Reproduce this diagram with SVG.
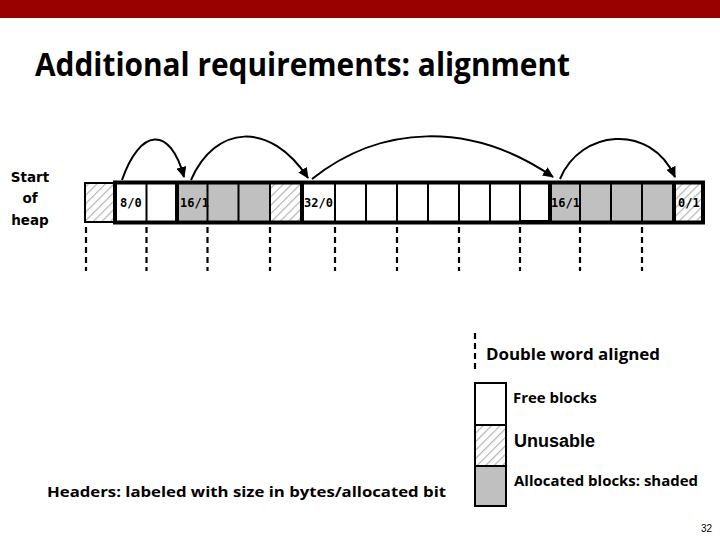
<svg xmlns="http://www.w3.org/2000/svg" width="720" height="540" viewBox="0 0 720 540">
<style>
.title{font-family:"Open Sans","Liberation Sans",sans-serif;font-weight:bold;font-size:33px;fill:#000}
.lbl{font-family:"Open Sans","Liberation Sans",sans-serif;font-weight:bold;fill:#000}
.cell{font-family:"DejaVu Sans Mono","Liberation Mono",monospace;font-weight:bold;font-size:12px;fill:#000}
.side{font-family:"DejaVu Sans","Liberation Sans",sans-serif;font-weight:bold;font-size:13.5px;fill:#000}
.free{fill:#fff}
.alloc{fill:#c0c0c0}
.hatch{fill:url(#hatch)}
.div{stroke:#000;stroke-width:2}
.thick{stroke:#000;stroke-width:4}
.dash{stroke:#000;stroke-width:2.2;stroke-dasharray:6,4;fill:none}
.arc{fill:none;stroke:#000;stroke-width:2;marker-end:url(#ah)}
</style>
<defs>
<pattern id="hatch" patternUnits="userSpaceOnUse" width="6" height="6" patternTransform="rotate(45)">
<rect width="6" height="6" fill="#fff"/>
<line x1="0" y1="0" x2="0" y2="6" stroke="#b4b4b4" stroke-width="2.4"/>
</pattern>
<marker id="ah" markerWidth="11" markerHeight="10" refX="10" refY="5" orient="auto" markerUnits="userSpaceOnUse">
<path d="M0,0 L11,5 L0,10 Z" fill="#000"/>
</marker>
</defs>
<rect x="0" y="0" width="720" height="18" fill="#990000"/>
<text class="title" x="35" y="76" textLength="535" lengthAdjust="spacingAndGlyphs">Additional requirements: alignment</text>

<g id="start-label">
<text class="side" x="30" y="182" text-anchor="middle">Start</text>
<text class="side" x="30" y="203" text-anchor="middle">of</text>
<text class="side" x="30" y="225" text-anchor="middle">heap</text>
</g>

<g id="pad">
<rect class="hatch" x="85" y="183" width="30" height="39" stroke="#000" stroke-width="2"/>
</g>

<g id="heap">
<rect class="free" x="115" y="182.5" width="62" height="40"/>
<rect class="alloc" x="177" y="182.5" width="93" height="40"/>
<rect class="hatch" x="270" y="182.5" width="32" height="40"/>
<rect class="free" x="302" y="182.5" width="248" height="40"/>
<rect class="alloc" x="550" y="182.5" width="124" height="40"/>
<rect class="hatch" x="674" y="182.5" width="29" height="40"/>
<g class="div">
<line x1="146.5" y1="182" x2="146.5" y2="223"/>
<line x1="207.5" y1="182" x2="207.5" y2="223"/>
<line x1="238.5" y1="182" x2="238.5" y2="223"/>
<line x1="270" y1="182" x2="270" y2="223"/>
<line x1="335" y1="182" x2="335" y2="223"/>
<line x1="366" y1="182" x2="366" y2="223"/>
<line x1="397" y1="182" x2="397" y2="223"/>
<line x1="428" y1="182" x2="428" y2="223"/>
<line x1="459" y1="182" x2="459" y2="223"/>
<line x1="490" y1="182" x2="490" y2="223"/>
<line x1="520" y1="182" x2="520" y2="223"/>
<line x1="580" y1="182" x2="580" y2="223"/>
<line x1="611" y1="182" x2="611" y2="223"/>
<line x1="642" y1="182" x2="642" y2="223"/>
</g>
<g class="thick">
<line x1="177" y1="182" x2="177" y2="223"/>
<line x1="302" y1="182" x2="302" y2="223"/>
<line x1="550" y1="182" x2="550" y2="223"/>
<line x1="674" y1="182" x2="674" y2="223"/>
</g>
<line x1="520" y1="221" x2="550" y2="221" stroke="#000" stroke-width="2"/>
<rect x="115" y="182.5" width="588" height="40" fill="none" stroke="#000" stroke-width="4"/>
<text class="cell" x="120" y="207">8/0</text>
<text class="cell" x="180" y="207">16/1</text>
<text class="cell" x="304" y="207">32/0</text>
<text class="cell" x="551" y="207">16/1</text>
<text class="cell" x="678" y="207">0/1</text>
</g>

<g id="aligned-marks">
<line class="dash" x1="86" y1="227" x2="86" y2="271"/>
<line class="dash" x1="146.5" y1="227" x2="146.5" y2="271"/>
<line class="dash" x1="207.5" y1="227" x2="207.5" y2="271"/>
<line class="dash" x1="270" y1="227" x2="270" y2="271"/>
<line class="dash" x1="335" y1="227" x2="335" y2="271"/>
<line class="dash" x1="397" y1="227" x2="397" y2="271"/>
<line class="dash" x1="459" y1="227" x2="459" y2="271"/>
<line class="dash" x1="520" y1="227" x2="520" y2="271"/>
<line class="dash" x1="580" y1="227" x2="580" y2="271"/>
<line class="dash" x1="642" y1="227" x2="642" y2="271"/>
</g>

<g id="connectors">
<path class="arc" d="M122,180 C140,128 170,125 184,177"/>
<path class="arc" d="M191,180 C215,125 270,120 308,178"/>
<path class="arc" d="M312,179 C380,125 470,120 553,177"/>
<path class="arc" d="M560,179 C580,130 650,122 675,177"/>
</g>

<g id="legend">
<line class="dash" x1="475" y1="333" x2="475" y2="372"/>
<text class="lbl" x="486" y="360" font-size="16" textLength="174" lengthAdjust="spacingAndGlyphs">Double word aligned</text>
<rect class="free" x="475" y="383" width="31" height="42" stroke="#000" stroke-width="2"/>
<rect class="hatch" x="475" y="425" width="31" height="41" stroke="#000" stroke-width="2"/>
<rect class="alloc" x="475" y="466" width="31" height="40" stroke="#000" stroke-width="2"/>
<text class="lbl" x="513" y="403" font-size="14" textLength="84" lengthAdjust="spacingAndGlyphs">Free blocks</text>
<text x="514" y="447" font-family="Liberation Sans, Arial, sans-serif" font-weight="bold" font-size="18" textLength="81" lengthAdjust="spacingAndGlyphs">Unusable</text>
<text class="lbl" x="514" y="486" font-size="14" textLength="184" lengthAdjust="spacingAndGlyphs">Allocated blocks: shaded</text>
</g>

<text class="lbl" x="47" y="497" font-size="15" textLength="399" lengthAdjust="spacingAndGlyphs">Headers: labeled with size in bytes/allocated bit</text>
<text x="701" y="532" font-family="Liberation Sans, Arial, sans-serif" font-size="10" fill="#000">32</text>
</svg>
